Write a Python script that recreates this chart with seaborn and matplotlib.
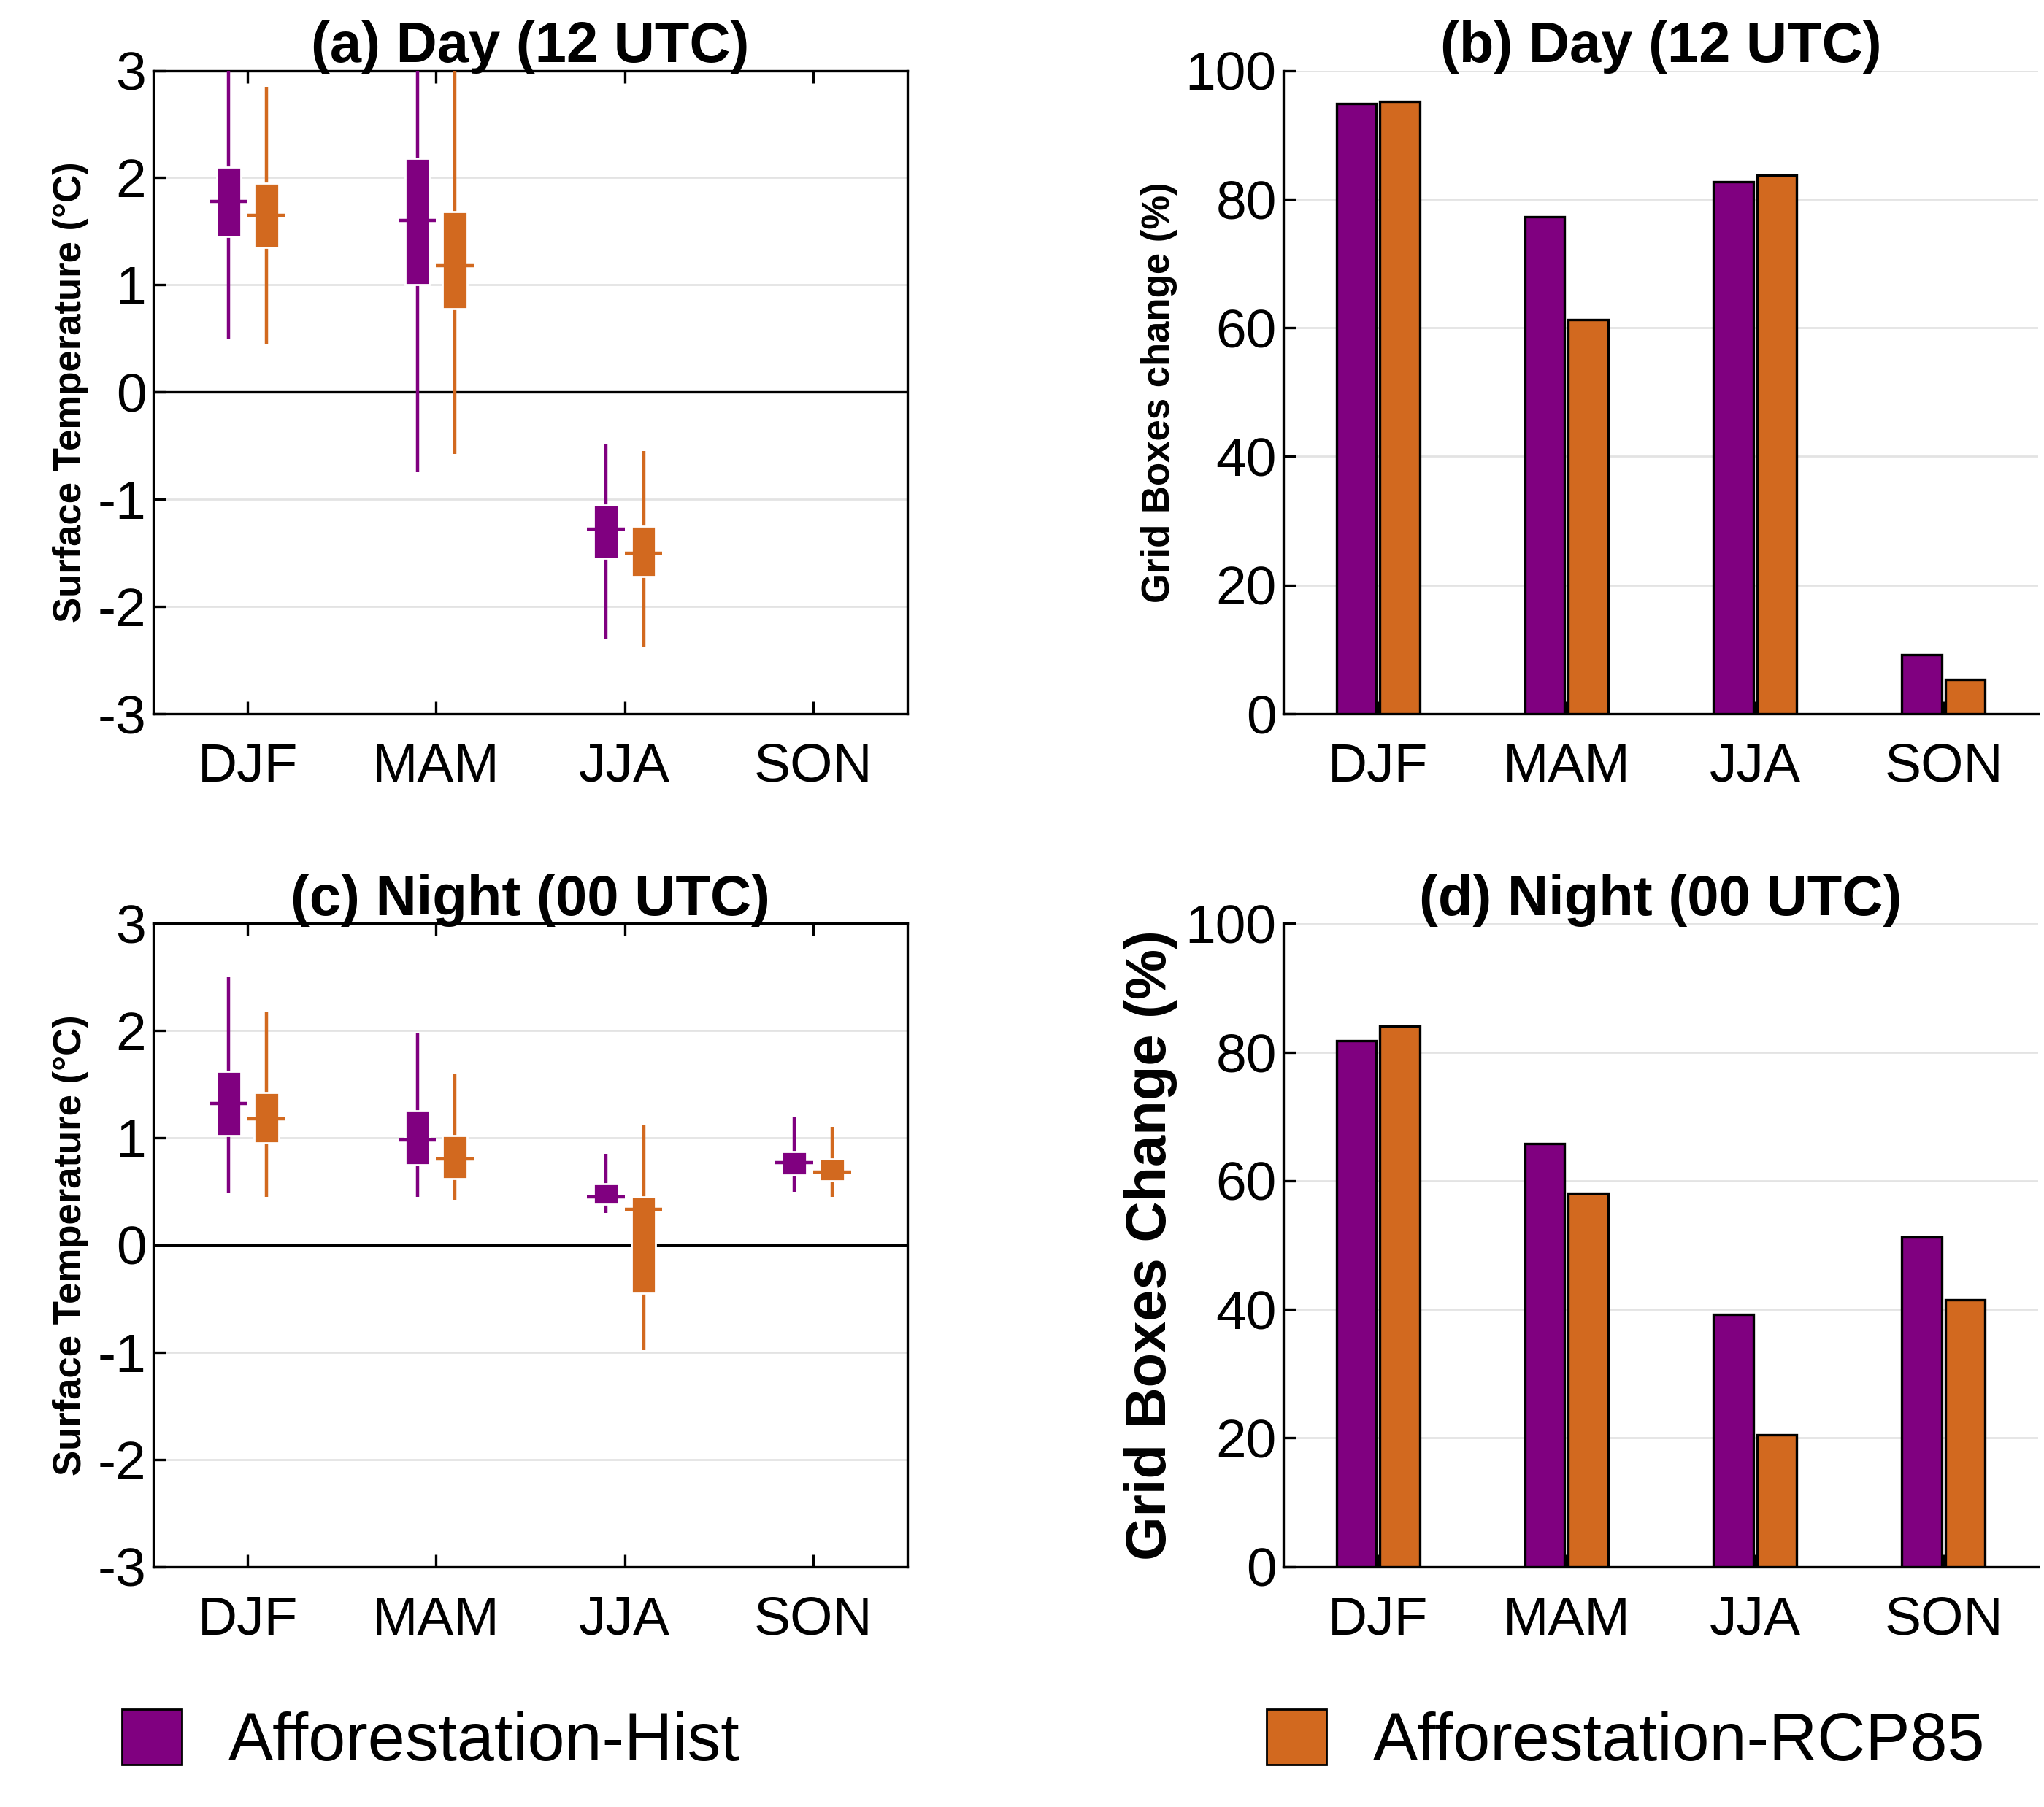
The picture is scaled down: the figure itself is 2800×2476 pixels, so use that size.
import matplotlib
matplotlib.use("Agg")
import matplotlib.pyplot as plt
import seaborn as sns
import pandas as pd
from matplotlib.patches import Patch

seasons = ["DJF", "MAM", "JJA", "SON"]
experiments = ["Afforestation-Hist", "Afforestation-RCP85"]
colors = {"Afforestation-Hist": "#800080", "Afforestation-RCP85": "#D2691F"}

# box stats per season: (whisker low, q1, median, q3, whisker high); None = no data
day_hist = [(0.5, 1.45, 1.78, 2.1, 3.3), (-0.75, 1.0, 1.6, 2.18, 3.3), (-2.3, -1.55, -1.28, -1.05, -0.48), None]
day_rcp = [(0.45, 1.35, 1.65, 1.95, 2.85), (-0.58, 0.78, 1.18, 1.68, 3.3), (-2.38, -1.72, -1.5, -1.25, -0.55), None]
night_hist = [(0.48, 1.02, 1.32, 1.62, 2.5), (0.45, 0.75, 0.98, 1.25, 1.98), (0.3, 0.38, 0.45, 0.57, 0.85), (0.5, 0.65, 0.77, 0.87, 1.2)]
night_rcp = [(0.45, 0.95, 1.18, 1.42, 2.18), (0.42, 0.62, 0.8, 1.02, 1.6), (-0.98, -0.45, 0.33, 0.45, 1.12), (0.45, 0.6, 0.68, 0.8, 1.1)]

# percentage of grid boxes with change
day_pct_hist = [94.8, 77.3, 82.7, 9.2]
day_pct_rcp = [95.2, 61.3, 83.7, 5.3]
night_pct_hist = [81.8, 65.8, 39.2, 51.3]
night_pct_rcp = [84.0, 58.0, 20.5, 41.5]

sns.set_theme(style="white")
plt.rcParams["font.family"] = ["Liberation Sans", "DejaVu Sans"]
plt.rcParams["axes.unicode_minus"] = False
plt.rcParams["text.color"] = "black"
plt.rcParams["axes.labelcolor"] = "black"
plt.rcParams["xtick.color"] = "black"
plt.rcParams["ytick.color"] = "black"

fig = plt.figure(figsize=(14, 12.38), dpi=200)
W, H = 0.369, 0.356
ax_a = fig.add_axes([0.075, 0.605, W, H])
ax_b = fig.add_axes([0.628, 0.605, W, H])
ax_c = fig.add_axes([0.075, 0.133, W, H])
ax_d = fig.add_axes([0.628, 0.133, W, H])


def box_panel(ax, hist, rcp, title):
    for stats, off, exp in [(hist, -0.1, experiments[0]), (rcp, 0.1, experiments[1])]:
        for i, s in enumerate(stats):
            if s is None:
                continue
            lo, q1, med, q3, hi = s
            x = i + 1 + off
            c = colors[exp]
            ax.vlines(x, lo, hi, color=c, lw=1.6, zorder=3)
            ax.bar(x, q3 - q1, bottom=q1, width=0.13, color=c, zorder=4)
            ax.hlines(med, x - 0.1, x + 0.1, color=c, lw=1.6, zorder=5)
    ax.axhline(0, color="black", lw=1.2, zorder=2)
    ax.set_xlim(0.5, 4.5)
    ax.set_ylim(-3, 3)
    ax.set_xticks(range(1, 5))
    ax.set_xticklabels(seasons)
    ax.set_yticks(range(-3, 4))
    ax.grid(axis="y", color="#e3e3e3", lw=1)
    ax.set_axisbelow(True)
    for sp in ax.spines.values():
        sp.set_color("black")
        sp.set_linewidth(1.2)
    ax.tick_params(labelsize=27, length=6, direction="in", width=1.2, left=True, bottom=True, top=True, right=False)
    ax.tick_params(axis="x", pad=14)
    ax.set_ylabel("Surface Temperature (°C)", fontsize=19, fontweight="bold")
    ax.set_title(title, fontsize=28, fontweight="bold", pad=4)


def bar_panel(ax, hist, rcp, title, ylabel, ylsize):
    df = pd.DataFrame({
        "season": seasons * 2,
        "exp": [experiments[0]] * 4 + [experiments[1]] * 4,
        "pct": hist + rcp,
    })
    sns.barplot(data=df, x="season", y="pct", hue="exp", palette=colors, ax=ax, saturation=1,
                width=0.46, gap=0.08, edgecolor="black", linewidth=1.2, legend=False, zorder=3)
    ax.set_xlim(-0.5, 3.5)
    ax.set_ylim(0, 100)
    ax.set_yticks(range(0, 101, 20))
    ax.grid(axis="y", color="#e3e3e3", lw=1)
    ax.set_axisbelow(True)
    ax.spines["top"].set_visible(False)
    ax.spines["right"].set_visible(False)
    for s in ["left", "bottom"]:
        ax.spines[s].set_color("black")
        ax.spines[s].set_linewidth(1.2)
    ax.tick_params(labelsize=27, length=6, direction="in", width=1.2, left=True, bottom=True)
    ax.tick_params(axis="x", pad=14)
    ax.set_xlabel("")
    ax.set_ylabel(ylabel, fontsize=ylsize, fontweight="bold")
    ax.set_title(title, fontsize=28, fontweight="bold", pad=4)


box_panel(ax_a, day_hist, day_rcp, "(a) Day (12 UTC)")
box_panel(ax_c, night_hist, night_rcp, "(c) Night (00 UTC)")
bar_panel(ax_b, day_pct_hist, day_pct_rcp, "(b) Day (12 UTC)", "Grid Boxes change (%)", 19)
bar_panel(ax_d, night_pct_hist, night_pct_rcp, "(d) Night (00 UTC)", "Grid Boxes Change (%)", 28)

for exp, xpos in [(experiments[0], 0.03), (experiments[1], 0.59)]:
    fig.legend(handles=[Patch(facecolor=colors[exp], edgecolor="black", label=exp)],
               loc="lower left", bbox_to_anchor=(xpos, -0.015), frameon=False,
               fontsize=33, handlelength=0.9, handleheight=0.9, handletextpad=0.7)

fig.savefig("out.png", dpi=200)
